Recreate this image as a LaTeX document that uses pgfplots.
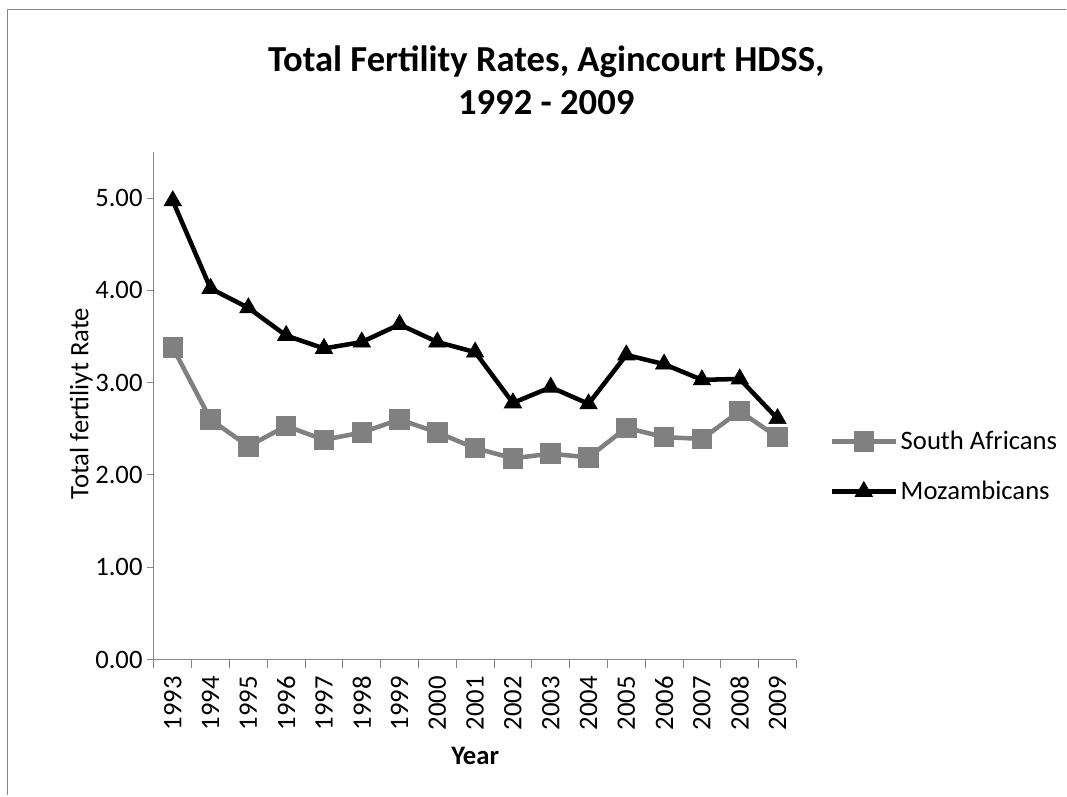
\documentclass[border=0pt]{standalone}
\usepackage{fontspec}
\setmainfont{Carlito}
\usepackage{pgfplots}
\pgfplotsset{compat=1.18}
\begin{document}
\begin{tikzpicture}
\path (0,0) rectangle (800.25pt,597pt);
\draw[color={rgb,255:red,134;green,134;blue,134},line width=1.2pt] (5.5pt,0) -- (5.5pt,590pt) -- (800.25pt,590pt);
\node[font=\fontsize{27.5}{32}\selectfont\bfseries,align=center] at (410pt,537pt) {Total Fertility Rates, Agincourt HDSS,\\1992 - 2009};
\begin{axis}[
  at={(115.5pt,102pt)}, anchor=south west,
  scale only axis, width=482.25pt, height=381pt,
  xmin=0.5, xmax=17.5, ymin=0, ymax=5.5,
  axis x line*=bottom, axis y line*=left,
  axis line style={color={rgb,255:red,134;green,134;blue,134},line width=0.75pt,-},
  xtick={1,...,17},
  xticklabels={1993,1994,1995,1996,1997,1998,1999,2000,2001,2002,2003,2004,2005,2006,2007,2008,2009},
  x tick label style={rotate=90,anchor=east,font=\fontsize{20}{22}\selectfont},
  xticklabel shift=4pt,
  minor xtick={0.5,1.5,...,17.5},
  major x tick style={draw=none},
  minor x tick style={color={rgb,255:red,134;green,134;blue,134},line width=0.75pt},
  minor tick length=6pt,
  ytick={0,1,2,3,4,5},
  /pgf/number format/fixed,
  /pgf/number format/fixed zerofill,
  /pgf/number format/precision=2,
  /pgf/number format/assume math mode=true,
  y tick label style={font=\fontsize{20}{22}\selectfont},
  y tick style={color={rgb,255:red,134;green,134;blue,134},line width=0.75pt},
  major tick length=5pt,
  tick align=outside,
  xlabel={\bfseries Year}, xlabel style={font=\fontsize{20}{22}\selectfont,at={(axis description cs:0.5,-0.19)},anchor=center},
  ylabel={Total fertiliyt Rate}, ylabel style={font=\fontsize{20}{22}\selectfont,at={(axis description cs:-0.113,0.504)},anchor=center},
  legend style={at={(1.045,0.38)},anchor=west,draw=none,font=\fontsize{20}{22}\selectfont,row sep=18pt},
  legend cell align=left,
  legend image code/.code={\draw[#1] (0pt,0pt) -- (48pt,0pt); \draw[#1,only marks] plot coordinates {(24pt,0pt)};},
]
\addplot[color={rgb,255:red,128;green,128;blue,128},line width=3.4pt,mark=square*,mark size=6pt,mark options={solid}]
coordinates {(1,3.38)(2,2.60)(3,2.31)(4,2.53)(5,2.38)(6,2.46)(7,2.60)(8,2.46)(9,2.29)(10,2.18)(11,2.23)(12,2.19)(13,2.51)(14,2.41)(15,2.39)(16,2.69)(17,2.41)};
\addlegendentry{South Africans}
\addplot[color=black,line width=3.4pt,mark=triangle*,mark size=7.5pt,mark options={solid,line width=0.5pt}]
coordinates {(1,4.97)(2,4.02)(3,3.81)(4,3.51)(5,3.37)(6,3.44)(7,3.63)(8,3.44)(9,3.33)(10,2.78)(11,2.95)(12,2.77)(13,3.30)(14,3.20)(15,3.03)(16,3.04)(17,2.61)};
\addlegendentry{Mozambicans}
\end{axis}
\end{tikzpicture}
\end{document}
